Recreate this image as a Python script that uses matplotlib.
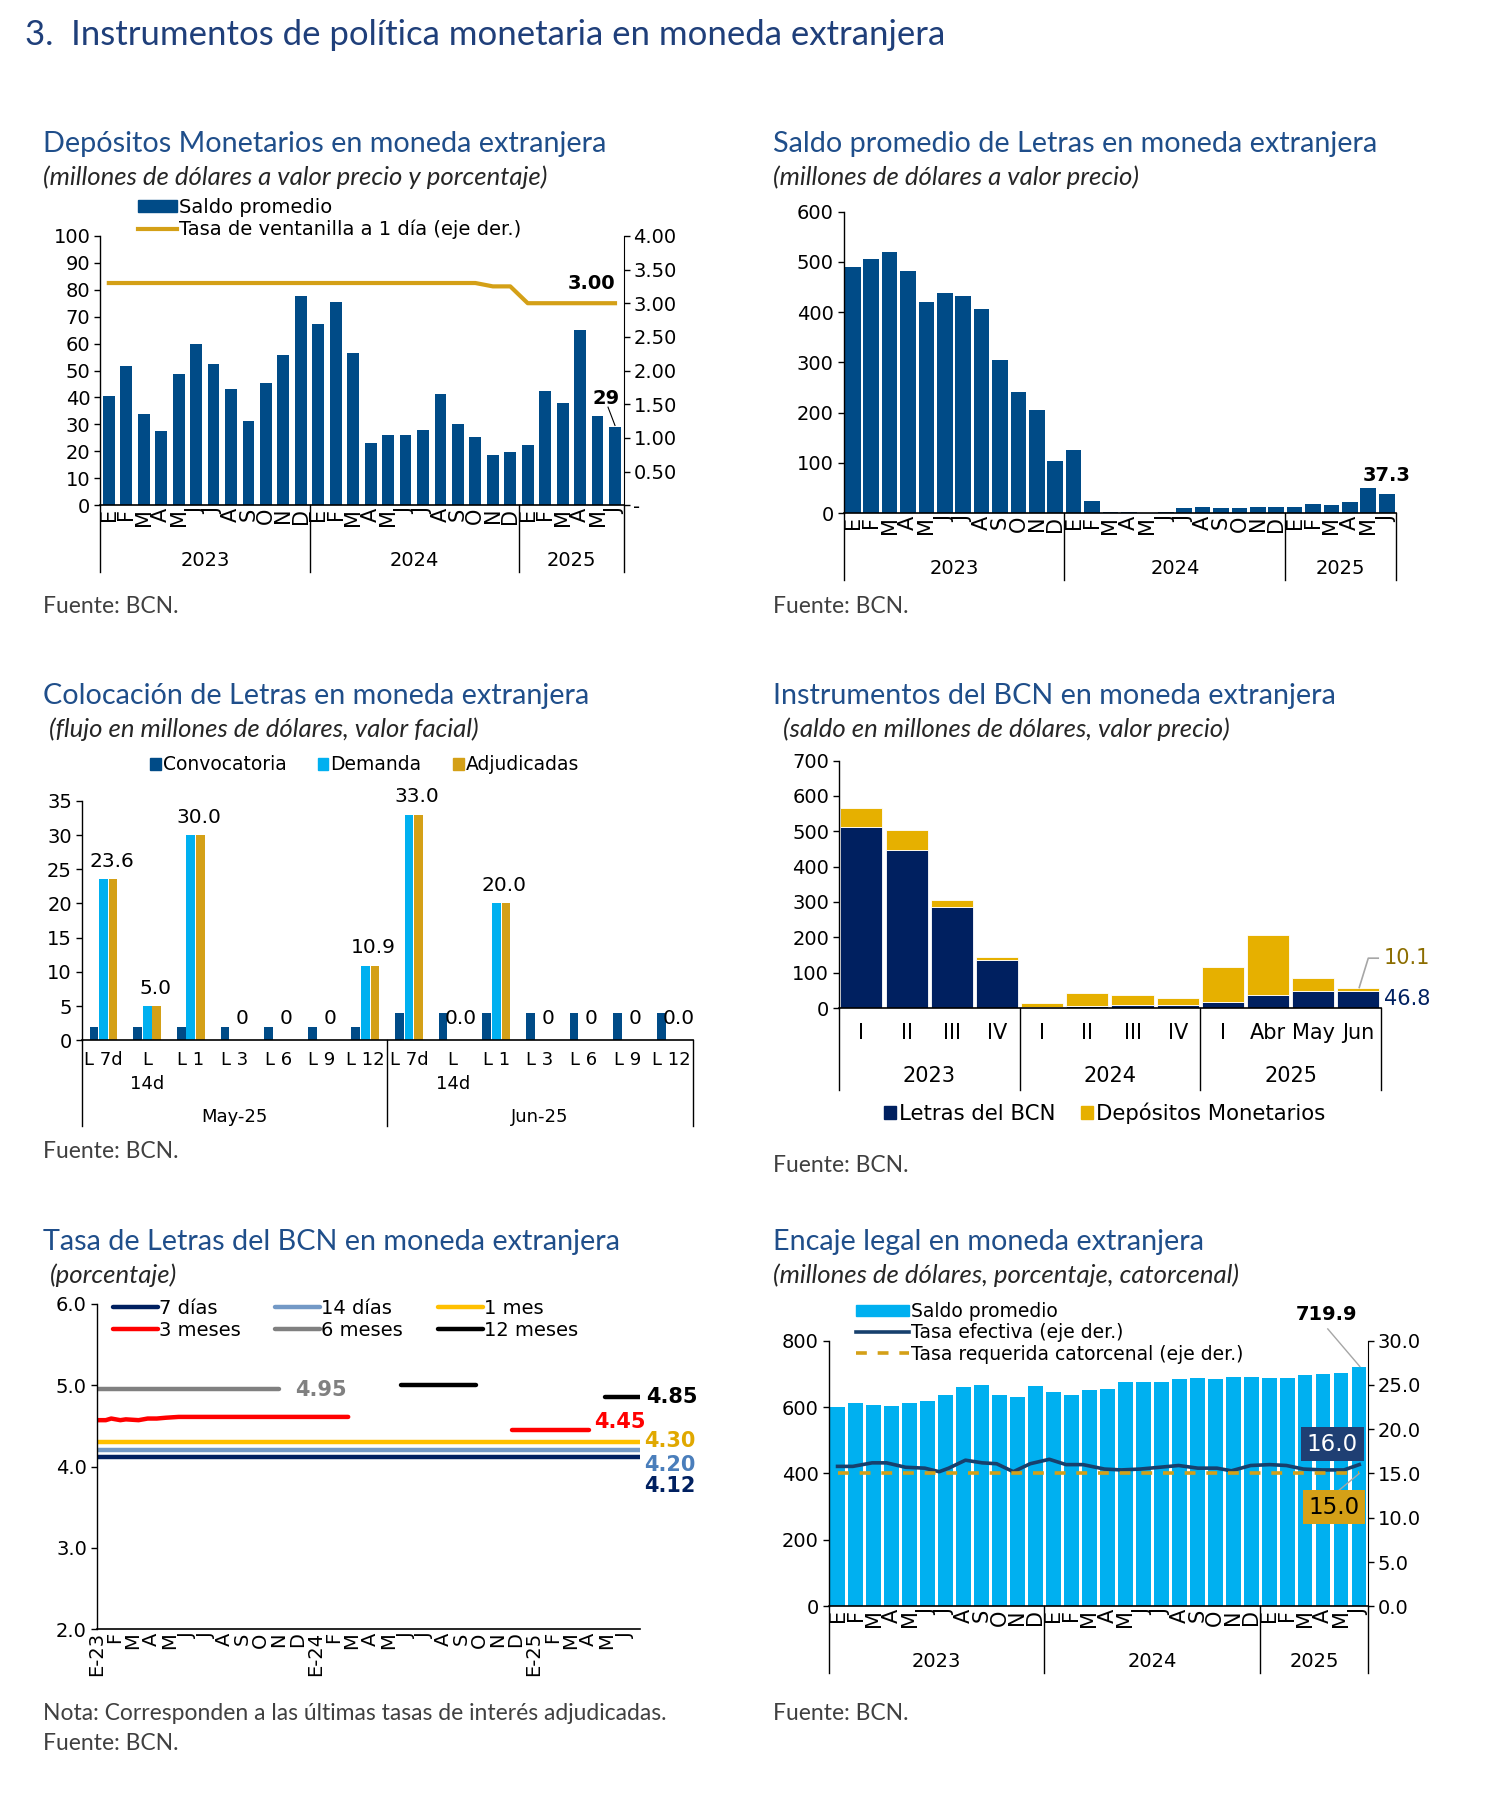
import matplotlib
matplotlib.use("Agg")
import matplotlib.pyplot as plt
from matplotlib.lines import Line2D
from matplotlib.patches import Patch

plt.rcParams['font.family'] = 'DejaVu Sans'

# ---------------- data ----------------
meses = ["E", "F", "M", "A", "M", "J", "J", "A", "S", "O", "N", "D",
         "E", "F", "M", "A", "M", "J", "J", "A", "S", "O", "N", "D",
         "E", "F", "M", "A", "M", "J"]
anios = ["2023", "2024", "2025"]

# depositos monetarios, saldo promedio (millones US$) y tasa ventanilla (%)
dep_saldo = [40.5, 51.5, 33.8, 27.7, 48.8, 59.8, 52.3, 43.1, 31.2, 45.4, 55.8, 77.8,
             67.3, 75.6, 56.4, 23.0, 25.9, 25.9, 28.0, 41.2, 30.1, 25.3, 18.6, 19.6,
             22.3, 42.3, 37.8, 65.2, 33.2, 29.0]
tasa_vent = [3.30, 3.30, 3.30, 3.30, 3.30, 3.30, 3.30, 3.30, 3.30, 3.30, 3.30, 3.30,
             3.30, 3.30, 3.30, 3.30, 3.30, 3.30, 3.30, 3.30, 3.30, 3.30, 3.25, 3.25,
             3.00, 3.00, 3.00, 3.00, 3.00, 3.00]

# saldo promedio de letras
letras_saldo = [489.7, 505.7, 519.0, 483.0, 419.8, 438.5, 431.8, 407.2, 305.4, 242.2, 206.3, 104.5,
                126.4, 24.6, 3.3, 2.0, 0.7, 3.3, 10.6, 12.6, 10.6, 10.6, 12.6, 12.6,
                12.6, 18.0, 16.6, 23.3, 50.6, 37.3]

# colocacion de letras
plazos = ["L 7d", "L\n14d", "L 1", "L 3", "L 6", "L 9", "L 12",
          "L 7d", "L\n14d", "L 1", "L 3", "L 6", "L 9", "L 12"]
meses_col = ["May-25", "Jun-25"]
convocatoria = [2, 2, 2, 2, 2, 2, 2, 4, 4, 4, 4, 4, 4, 4]
demanda = [23.6, 5.0, 30.0, 0, 0, 0, 10.9, 33.0, 0, 20.0, 0, 0, 0, 0]
adjudicadas = [23.6, 5.0, 30.0, 0, 0, 0, 10.9, 33.0, 0, 20.0, 0, 0, 0, 0]
etiq_col = ["23.6", "5.0", "30.0", "0", "0", "0", "10.9",
            "33.0", "0.0", "20.0", "0", "0", "0", "0.0"]

# instrumentos del BCN
periodos = ["I", "II", "III", "IV", "I", "II", "III", "IV", "I", "Abr", "May", "Jun"]
letras_bcn = [511.8, 447.5, 284.8, 136.2, 1.9, 5.7, 9.5, 9.5, 17.0, 36.9, 48.3, 46.8]
depositos = [53.9, 54.9, 20.8, 9.5, 13.2, 37.8, 28.3, 18.9, 99.4, 168.4, 36.8, 10.1]

# tasas de letras (x en meses desde ene-23)
meses_tasa = ["E-23", "F", "M", "A", "M", "J", "J", "A", "S", "O", "N", "D",
              "E-24", "F", "M", "A", "M", "J", "J", "A", "S", "O", "N", "D",
              "E-25", "F", "M", "A", "M", "J"]
t7_x, t7 = [0, 29.8], [4.12, 4.12]
t14_x, t14 = [0, 29.8], [4.20, 4.20]
t1m_x, t1m = [0, 29.8], [4.30, 4.30]
t3m_x = [0, 0.5, 0.8, 1.3, 1.6, 2.3, 2.8, 3.3, 3.8, 4.5, 13.8]
t3m = [4.57, 4.57, 4.59, 4.57, 4.58, 4.57, 4.59, 4.59, 4.60, 4.61, 4.61]
t3m_b_x, t3m_b = [22.8, 27.0], [4.45, 4.45]
t6m_x, t6m = [0, 10.0], [4.95, 4.95]
t12m_x, t12m = [16.7, 20.8], [5.00, 5.00]
t12m_b_x, t12m_b = [27.9, 29.8], [4.85, 4.85]

# encaje legal
encaje = [600.5, 611.5, 605.5, 602.5, 611.5, 617.5, 635.6, 659.6, 667.7, 637.6, 630.6, 662.7,
          646.6, 637.6, 651.6, 654.6, 676.7, 676.7, 676.7, 683.7, 688.7, 683.7, 691.7, 691.7,
          688.7, 686.7, 697.7, 700.7, 702.8, 719.9]
tasa_ef_x = [0, 0.85, 1.92, 2.72, 3.78, 4.85, 5.65, 6.18, 7.11, 8.04, 8.84, 9.77, 10.71, 11.77,
             12.70, 13.64, 14.83, 15.77, 16.83, 17.90, 18.96, 20.03, 21.09, 21.89, 22.96,
             24.02, 24.95, 25.89, 26.95, 28.15, 29.0]
tasa_ef = [15.8, 15.8, 16.2, 16.2, 15.7, 15.6, 15.2, 15.6, 16.5, 16.2, 16.1, 15.2, 16.1, 16.6,
           16.0, 16.0, 15.5, 15.4, 15.5, 15.7, 15.9, 15.6, 15.6, 15.3, 15.9,
           16.0, 15.9, 15.5, 15.4, 15.4, 16.0]
tasa_req_x, tasa_req = [0, 29], [15.0, 15.0]

# ---------------- style ----------------
AZUL = '#004B87'
ORO = '#D4A017'
CELESTE = '#00B0F0'
MARINO = '#002060'
TIT = '#1F4E8A'
TXT = 'Lato'
FS_TIT, FS_SUB, FS_FTE = 20.7, 18.5, 16.5

W, H = 1300.0, 1566.0


def caja(l, t, r, b):
    return [l / W, 1 - b / H, (r - l) / W, (b - t) / H]


def fx(x):
    return x / W


def fy(y):
    return 1 - y / H


def encabezado(x, y, titulo, sub, xs=None):
    fig.text(fx(x), fy(y), titulo, fontsize=FS_TIT, color=TIT, family=TXT, va='center')
    fig.text(fx(xs if xs else x), fy(y + 29), sub, fontsize=FS_SUB, color='#262626',
             family=TXT, style='italic', va='center')


def fuente(x, y, txt="Fuente: BCN."):
    fig.text(fx(x), fy(y), txt, fontsize=FS_FTE, color='#404040', family=TXT, va='center')


def estilo(ax):
    for s in ['top', 'right']:
        ax.spines[s].set_visible(False)
    ax.spines['left'].set_linewidth(1)
    ax.spines['bottom'].set_linewidth(1.2)
    ax.tick_params(axis='y', direction='out', length=4, width=1, labelsize=14, pad=3)
    ax.tick_params(axis='x', length=0, labelsize=15, pad=2)


def grupos(ax, bordes, centros, nombres, y_lab, y_fin, fs=14):
    tr = ax.get_xaxis_transform()
    for b in bordes:
        ax.plot([b, b], [0, y_fin], transform=tr, color='black', lw=1, clip_on=False)
    for c, n in zip(centros, nombres):
        ax.text(c, y_lab, n, transform=tr, ha='center', va='center', fontsize=fs)


fig = plt.figure(figsize=(14.96, 18.02), dpi=100)

fig.text(fx(22), fy(30), "3.  Instrumentos de política monetaria en moneda extranjera",
         fontsize=25, color='#1F3F7A', family=TXT, va='center')

# ---------- panel 1 ----------
encabezado(37, 125, "Depósitos Monetarios en moneda extranjera",
           "(millones de dólares a valor precio y porcentaje)")
fuente(37, 527)

ax1 = fig.add_axes(caja(87, 205, 542, 439))
x = list(range(len(dep_saldo)))
ax1.bar(x, dep_saldo, width=0.68, color=AZUL)
ax1.set_xlim(-0.5, 29.5)
ax1.set_ylim(0, 100)
ax1.set_yticks(range(0, 101, 10))
ax1.set_xticks(x)
ax1.set_xticklabels(meses, rotation=90)
estilo(ax1)
ax1b = ax1.twinx()
ax1b.plot(x, tasa_vent, color=ORO, lw=3)
ax1b.set_ylim(0, 4)
ax1b.set_yticks([0, 0.5, 1, 1.5, 2, 2.5, 3, 3.5, 4])
ax1b.set_yticklabels(["-", "0.50", "1.00", "1.50", "2.00", "2.50", "3.00", "3.50", "4.00"])
for s in ['top', 'left', 'bottom']:
    ax1b.spines[s].set_visible(False)
ax1b.tick_params(axis='y', direction='out', length=4, width=1, labelsize=14, pad=3)
ax1b.text(27.65, 3.30, "3.00", fontsize=14, fontweight='bold', ha='center', va='center')
ax1.text(28.5, 39.5, "29", fontsize=14, fontweight='bold', ha='center', va='center')
ax1.plot([28.6, 29.0], [36.4, 29.6], color='black', lw=0.8)
grupos(ax1, [-0.5, 11.5, 23.5, 29.5], [5.5, 17.5, 26.5], anios, -0.205, -0.25)
h1 = [Patch(color=AZUL), Line2D([], [], color=ORO, lw=3)]
ax1.legend(h1, ["Saldo promedio", "Tasa de ventanilla a 1 día (eje der.)"], loc='upper left',
           bbox_to_anchor=(0.072, 1.14), frameon=False, fontsize=14, handlelength=2.0,
           handleheight=0.55, handletextpad=0.1, labelspacing=0.12, borderpad=0,
           borderaxespad=0)

# ---------- panel 2 ----------
encabezado(672, 125, "Saldo promedio de Letras en moneda extranjera",
           "(millones de dólares a valor precio)")
fuente(672, 527)

ax2 = fig.add_axes(caja(733, 184, 1213, 446))
ax2.bar(x, letras_saldo, width=0.85, color=AZUL)
ax2.set_xlim(-0.5, 29.5)
ax2.set_ylim(0, 600)
ax2.set_yticks(range(0, 601, 100))
ax2.set_xticks(x)
ax2.set_xticklabels(meses, rotation=90)
estilo(ax2)
ax2.text(29.0, 74.5, "37.3", fontsize=14, fontweight='bold', ha='center', va='center')
grupos(ax2, [-0.5, 11.5, 23.5, 29.5], [5.5, 17.5, 26.5], anios, -0.183, -0.22)

# ---------- panel 3 ----------
encabezado(37, 605, "Colocación de Letras en moneda extranjera",
           "(flujo en millones de dólares, valor facial)", xs=43)
fuente(37, 1001)

ax3 = fig.add_axes(caja(71, 696, 602, 904))
xc = list(range(len(plazos)))
ax3.bar([i - 0.22 for i in xc], convocatoria, width=0.2, color=AZUL)
ax3.bar(xc, demanda, width=0.2, color=CELESTE)
ax3.bar([i + 0.22 for i in xc], adjudicadas, width=0.2, color=ORO)
for i, (v, t) in enumerate(zip(adjudicadas, etiq_col)):
    yy = v + 1.2 if v > 0 else 1.8
    ax3.text(i + 0.18, yy, t, fontsize=14.5, ha='center', va='bottom')
ax3.set_xlim(-0.5, 13.5)
ax3.set_ylim(0, 35)
ax3.set_yticks(range(0, 36, 5))
ax3.set_xticks(xc)
ax3.set_xticklabels(plazos, va='top', linespacing=1.4)
estilo(ax3)
ax3.tick_params(axis='x', labelsize=13, pad=8)
grupos(ax3, [-0.5, 6.5, 13.5], [3, 10], meses_col, -0.322, -0.36, fs=13)
h3 = [Patch(color=AZUL), Patch(color=CELESTE), Patch(color=ORO)]
ax3.legend(h3, ["Convocatoria", "Demanda", "Adjudicadas"], loc='center',
           bbox_to_anchor=(0.463, 1.15), ncol=3, frameon=False, fontsize=13.5,
           handlelength=0.55, handleheight=0.55, handletextpad=0.1, columnspacing=1.7,
           borderpad=0, borderaxespad=0)

# ---------- panel 4 ----------
encabezado(672, 605, "Instrumentos del BCN en moneda extranjera",
           "(saldo en millones de dólares, valor precio)", xs=680)
fuente(672, 1013)

ax4 = fig.add_axes(caja(729, 661, 1200, 876))
xp = list(range(len(periodos)))
ax4.bar(xp, letras_bcn, width=0.93, color=MARINO, edgecolor='white', linewidth=0.6)
ax4.bar(xp, depositos, bottom=letras_bcn, width=0.93, color='#E6B000',
        edgecolor='white', linewidth=0.6)
ax4.set_xlim(-0.5, 11.5)
ax4.set_ylim(0, 700)
ax4.set_yticks(range(0, 701, 100))
ax4.set_xticks(xp)
ax4.set_xticklabels(periodos)
estilo(ax4)
ax4.tick_params(axis='x', labelsize=15, pad=11)
grupos(ax4, [-0.5, 3.5, 7.5, 11.5], [1.5, 5.5, 9.5], anios, -0.274, -0.33, fs=15)
ax4.plot([11.02, 11.22, 11.44], [58, 141, 141], color='#A6A6A6', lw=1.2, clip_on=False)
ax4.text(11.57, 141, "10.1", fontsize=15, color='#8C6D00', ha='left', va='center')
ax4.text(11.57, 26.5, "46.8", fontsize=15, color=MARINO, ha='left', va='center')
h4 = [Patch(color=MARINO), Patch(color='#E6B000')]
ax4.legend(h4, ["Letras del BCN", "Depósitos Monetarios"], loc='center',
           bbox_to_anchor=(0.49, -0.425), ncol=2, frameon=False, fontsize=15.3,
           handlelength=0.55, handleheight=0.55, handletextpad=0.15, columnspacing=1.2,
           borderpad=0, borderaxespad=0)

# ---------- panel 5 ----------
encabezado(37, 1079, "Tasa de Letras del BCN en moneda extranjera", "(porcentaje)", xs=43)
fuente(37, 1489, "Nota: Corresponden a las últimas tasas de interés adjudicadas.")
fuente(37, 1515)

ax5 = fig.add_axes(caja(84, 1133, 556, 1416))
c7, c14, c1, c3, c6, c12 = MARINO, '#7399C6', '#FFC000', '#FF0000', '#808080', '#000000'
l7, = ax5.plot(t7_x, t7, color=c7, lw=3.2, solid_capstyle='round')
l14, = ax5.plot(t14_x, t14, color=c14, lw=3.2, solid_capstyle='round')
l1, = ax5.plot(t1m_x, t1m, color=c1, lw=3.2, solid_capstyle='round')
l3, = ax5.plot(t3m_x, t3m, color=c3, lw=3.2, solid_capstyle='round')
ax5.plot(t3m_b_x, t3m_b, color=c3, lw=3.2, solid_capstyle='round')
l6, = ax5.plot(t6m_x, t6m, color=c6, lw=3.2, solid_capstyle='round')
l12, = ax5.plot(t12m_x, t12m, color=c12, lw=3.2, solid_capstyle='round')
ax5.plot(t12m_b_x, t12m_b, color=c12, lw=3.2, solid_capstyle='round')
ax5.set_xlim(0, 29.8)
ax5.set_ylim(2.0, 6.0)
ax5.set_yticks([2.0, 3.0, 4.0, 5.0, 6.0])
ax5.set_yticklabels(["2.0", "3.0", "4.0", "5.0", "6.0"])
ax5.set_xticks(range(len(meses_tasa)))
ax5.set_xticklabels(meses_tasa, rotation=90, va='top')
estilo(ax5)
ax5.tick_params(axis='x', labelsize=14)
ax5.text(12.3, 4.94, "4.95", color=c6, fontsize=15, fontweight='bold', ha='center', va='center')
ax5.text(28.7, 4.55, "4.45", color=c3, fontsize=15, fontweight='bold', ha='center', va='center')
ax5.text(30.15, 4.85, "4.85", color=c12, fontsize=15, fontweight='bold', ha='left', va='center',
         clip_on=False)
ax5.text(30.05, 4.31, "4.30", color='#E0A800', fontsize=15, fontweight='bold', ha='left',
         va='center', clip_on=False)
ax5.text(30.05, 4.02, "4.20", color='#4A7EBB', fontsize=15, fontweight='bold', ha='left',
         va='center', clip_on=False)
ax5.text(30.05, 3.76, "4.12", color=c7, fontsize=15, fontweight='bold', ha='left',
         va='center', clip_on=False)
ax5.legend([l7, l3, l14, l6, l1, l12],
           ["7 días", "3 meses", "14 días", "6 meses", "1 mes", "12 meses"],
           loc='upper left', bbox_to_anchor=(0.03, 1.015), ncol=3, frameon=False, fontsize=14,
           handlelength=2.3, handletextpad=0.05, columnspacing=1.8, labelspacing=0.15,
           borderpad=0, borderaxespad=0)

# ---------- panel 6 ----------
encabezado(672, 1079, "Encaje legal en moneda extranjera",
           "(millones de dólares, porcentaje, catorcenal)")
fuente(672, 1489)

ax6 = fig.add_axes(caja(720, 1165, 1189, 1396))
ax6.bar(x, encaje, width=0.8, color=CELESTE)
ax6.set_xlim(-0.5, 29.5)
ax6.set_ylim(0, 800)
ax6.set_yticks(range(0, 801, 200))
ax6.set_xticks(x)
ax6.set_xticklabels(meses, rotation=90)
estilo(ax6)
ax6b = ax6.twinx()
ax6b.plot(tasa_ef_x, tasa_ef, color='#17406D', lw=2.6)
ax6b.plot(tasa_req_x, tasa_req, color=ORO, lw=2.6, ls=(0, (3, 3)))
ax6b.set_ylim(0, 30)
ax6b.set_yticks([0, 5, 10, 15, 20, 25, 30])
ax6b.set_yticklabels(["0.0", "5.0", "10.0", "15.0", "20.0", "25.0", "30.0"])
for s in ['top', 'left', 'bottom']:
    ax6b.spines[s].set_visible(False)
ax6b.tick_params(axis='y', direction='out', length=4, width=1, labelsize=14, pad=3)
ax6.text(27.2, 877, "719.9", fontsize=14, fontweight='bold', ha='center', va='center',
         clip_on=False)
ax6.plot([27.25, 29.03], [835, 722], color='#A6A6A6', lw=1, clip_on=False)
ax6b.text(27.5, 18.3, "16.0", fontsize=16.5, color='white', ha='center', va='center',
          bbox=dict(boxstyle='square,pad=0.25', fc='#1F3F73', ec='none'))
ax6b.plot([29.0, 27.75], [15.0, 12.9], color='#A6A6A6', lw=1)
ax6b.text(27.6, 11.2, "15.0", fontsize=16.5, color='black', ha='center', va='center',
          bbox=dict(boxstyle='square,pad=0.25', fc=ORO, ec='none'))
grupos(ax6, [-0.5, 11.5, 23.5, 29.5], [5.5, 17.5, 26.5], anios, -0.208, -0.25)
h6 = [Patch(color=CELESTE), Line2D([], [], color='#17406D', lw=2.6),
      Line2D([], [], color=ORO, lw=2.6, ls=(0, (3, 3)))]
ax6.legend(h6, ["Saldo promedio", "Tasa efectiva (eje der.)",
                "Tasa requerida catorcenal (eje der.)"], loc='upper left',
           bbox_to_anchor=(0.051, 1.145), frameon=False, fontsize=13.5, handlelength=2.8,
           handleheight=0.55, handletextpad=0.15, labelspacing=0.12, borderpad=0,
           borderaxespad=0)

fig.savefig("out.png", dpi=100)
